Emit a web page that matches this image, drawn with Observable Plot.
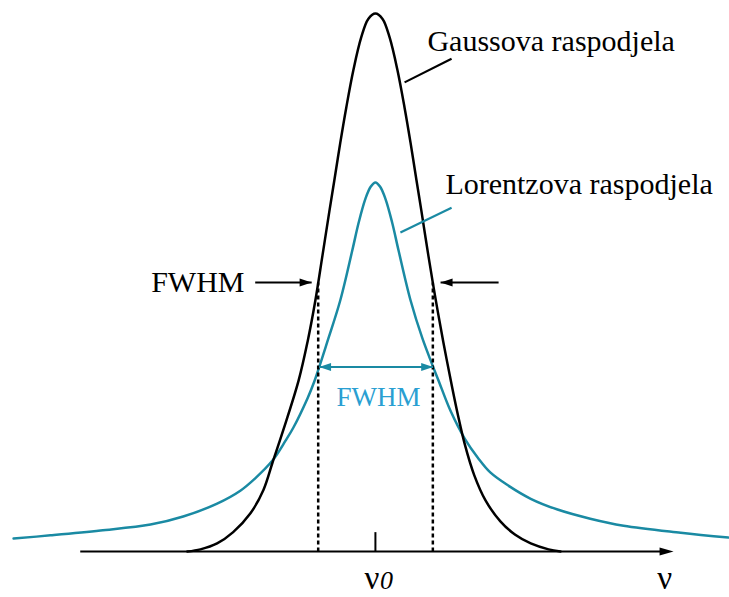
<!DOCTYPE html>
<html>
<head>
<meta charset="utf-8">
<script src="https://cdn.jsdelivr.net/npm/d3@7"></script>
<script src="https://cdn.jsdelivr.net/npm/@observablehq/plot@0.6"></script>
<style>
  html, body { margin: 0; padding: 0; background: #ffffff; }
  #chart svg { display: block; }
</style>
</head>
<body>
<div id="chart"></div>
<script>
// ---- Data (frequency offset from ν0 in half-widths, intensity with Gaussian peak = 1)
const gaussX = [-3.16,-2.94,-2.66,-2.39,-2.10,-1.88,-1.73,-1.55,-1.29,-1.14,-1.01,-0.89,-0.77,-0.69,-0.59,-0.49,-0.37,-0.24,-0.12,
  0,
  0.12,0.24,0.37,0.49,0.59,0.69,0.77,0.89,1.01,1.14,1.29,1.39,1.50,1.66,1.85,2.10,2.35,2.61,2.91,3.11];
const gaussY = [0,0.004,0.015,0.036,0.071,0.115,0.165,0.225,0.318,0.390,0.466,0.550,0.635,0.690,0.760,0.825,0.895,0.955,0.990,
  1.0,
  0.990,0.955,0.895,0.825,0.760,0.690,0.635,0.550,0.470,0.390,0.305,0.252,0.200,0.142,0.095,0.056,0.031,0.015,0.004,0];

const lorentzX = [-6.08,-5.46,-4.62,-3.78,-3.23,-2.66,-2.27,-2.02,-1.73,-1.51,-1.38,-1.14,-1.03,-0.79,-0.59,-0.39,-0.28,-0.17,-0.08,
  0,
  0.08,0.17,0.28,0.39,0.59,0.79,0.96,1.06,1.26,1.50,1.73,1.93,2.24,2.61,3.06,3.61,4.17,5.13,5.93];
const lorentzY = [0.024,0.030,0.039,0.050,0.065,0.089,0.113,0.136,0.169,0.206,0.230,0.285,0.315,0.396,0.467,0.559,0.612,0.655,0.678,
  0.686,
  0.678,0.655,0.612,0.559,0.467,0.396,0.346,0.318,0.262,0.210,0.173,0.147,0.122,0.098,0.078,0.061,0.048,0.035,0.026];

const labels = {
  gauss: "Gaussova raspodjela",
  lorentz: "Lorentzova raspodjela",
  fwhm: "FWHM",
  nu: "ν",
  sub0: "0"
};
const axisExtent = [-4.96, 5.01];   // drawn frequency axis (tail, arrow tip)
const nu0 = 0;                      // centre frequency ν0

// ---- Derived values
const gauss = gaussX.map((x, i) => ({x, y: gaussY[i]}));
const lorentz = lorentzX.map((x, i) => ({x, y: lorentzY[i]}));

function halfCrossings(xs, ys) {
  const level = d3.max(ys) / 2;
  let left = null, right = null;
  for (let i = 0; i < xs.length - 1; i++) {
    const y0 = ys[i], y1 = ys[i + 1];
    if (left === null && y0 <= level && y1 >= level) {
      left = xs[i] + (level - y0) / (y1 - y0) * (xs[i + 1] - xs[i]);
    }
    if (xs[i] >= 0 && y0 >= level && y1 <= level) {
      right = xs[i] + (y0 - level) / (y0 - y1) * (xs[i + 1] - xs[i]);
    }
  }
  return {level, left, right};
}
const gH = halfCrossings(gaussX, gaussY);
const lH = halfCrossings(lorentzX, lorentzY);

// ---- Styles
const TEAL = "#1a8aa3";
const TEAL_TEXT = "#2a9fd2";
const FONT = "'Liberation Serif', 'Times New Roman', Times, serif";

function head(len, wid, dir) {
  return {
    draw(ctx) {
      ctx.moveTo(0, 0);
      ctx.lineTo(-dir * len, -wid / 2);
      ctx.lineTo(-dir * len, wid / 2);
      ctx.closePath();
    }
  };
}
const headR = head(12, 8, 1), headL = head(12, 8, -1);
const axisHead = head(14, 8, 1);

const blackArrows = [
  {x1: -2.02, x2: gH.left - 0.11, y: gH.level},
  {x1: 2.07, x2: gH.right + 0.13, y: gH.level}
];

const chart = Plot.plot({
  width: 729,
  height: 597,
  margin: 0,
  x: {domain: [-6.30, 5.95], axis: null},
  y: {domain: [-0.0855, 1.0242], axis: null},
  style: {background: "#ffffff", fontFamily: FONT},
  marks: [
    // curves
    Plot.line(lorentz, {x: "x", y: "y", stroke: TEAL, strokeWidth: 2.5, curve: "catmull-rom"}),
    Plot.line(gauss, {x: "x", y: "y", stroke: "#000", strokeWidth: 2.5, curve: "catmull-rom"}),
    // FWHM dashed verticals of the Gaussian
    Plot.link([gH.left, gH.right], {x1: d => d, x2: d => d, y1: 0, y2: gH.level,
      stroke: "#000", strokeWidth: 2.5, strokeDasharray: "4,3"}),
    // frequency axis
    Plot.link([axisExtent], {x1: d => d[0], x2: d => d[1] - 0.1, y1: 0, y2: 0, stroke: "#000", strokeWidth: 2.2}),
    Plot.dot([axisExtent[1]], {x: d => d, y: 0, symbol: axisHead, fill: "#000", stroke: "none"}),
    // ν0 tick
    Plot.link([nu0], {x1: d => d, x2: d => d, y1: 0, y2: 0.036, stroke: "#000", strokeWidth: 2}),
    // black FWHM arrows
    Plot.link(blackArrows, {x1: "x1", x2: "x2", y1: "y", y2: "y", stroke: "#000", strokeWidth: 2}),
    Plot.dot([blackArrows[0]], {x: "x2", y: "y", symbol: headR, fill: "#000", stroke: "none"}),
    Plot.dot([blackArrows[1]], {x: "x2", y: "y", symbol: headL, fill: "#000", stroke: "none"}),
    // teal FWHM double arrow
    Plot.link([lH], {x1: "left", x2: "right", y1: "level", y2: "level", stroke: TEAL, strokeWidth: 2}),
    Plot.dot([lH], {x: "left", y: "level", symbol: headL, fill: TEAL, stroke: "none"}),
    Plot.dot([lH], {x: "right", y: "level", symbol: headR, fill: TEAL, stroke: "none"}),
    // leader lines
    Plot.link([{x1: 0.49, y1: 0.872, x2: 1.28, y2: 0.916}], {x1: "x1", y1: "y1", x2: "x2", y2: "y2", stroke: "#000", strokeWidth: 2.2}),
    Plot.link([{x1: 0.42, y1: 0.593, x2: 1.28, y2: 0.639}], {x1: "x1", y1: "y1", x2: "x2", y2: "y2", stroke: TEAL, strokeWidth: 2.2}),
    // labels
    Plot.text([labels.gauss], {x: 0.874, y: 0.931, text: d => d, textAnchor: "start", lineAnchor: "bottom",
      fontSize: 30, fill: "#000", fontFamily: FONT}),
    Plot.text([labels.lorentz], {x: 1.176, y: 0.665, text: d => d, textAnchor: "start", lineAnchor: "bottom",
      fontSize: 30, fill: "#000", fontFamily: FONT}),
    Plot.text([labels.fwhm], {x: -2.20, y: gH.level, text: d => d, textAnchor: "end", lineAnchor: "middle",
      fontSize: 30, fill: "#000", fontFamily: FONT}),
    Plot.text([labels.fwhm], {x: 0.05, y: 0.271, text: d => d, textAnchor: "middle", lineAnchor: "bottom",
      fontSize: 27, fill: TEAL_TEXT, fontFamily: FONT}),
    Plot.text([labels.nu], {x: nu0 - 0.06, y: -0.0688, text: d => d, textAnchor: "middle", lineAnchor: "bottom",
      fontSize: 33, fill: "#000", fontFamily: FONT}),
    Plot.text([labels.sub0], {x: nu0 + 0.185, y: -0.0706, text: d => d, textAnchor: "middle", lineAnchor: "bottom",
      fontSize: 26, fontStyle: "italic", fill: "#000", fontFamily: FONT}),
    Plot.text([labels.nu], {x: 4.86, y: -0.0688, text: d => d, textAnchor: "middle", lineAnchor: "bottom",
      fontSize: 33, fill: "#000", fontFamily: FONT})
  ]
});
document.getElementById("chart").appendChild(chart);
</script>
</body>
</html>
